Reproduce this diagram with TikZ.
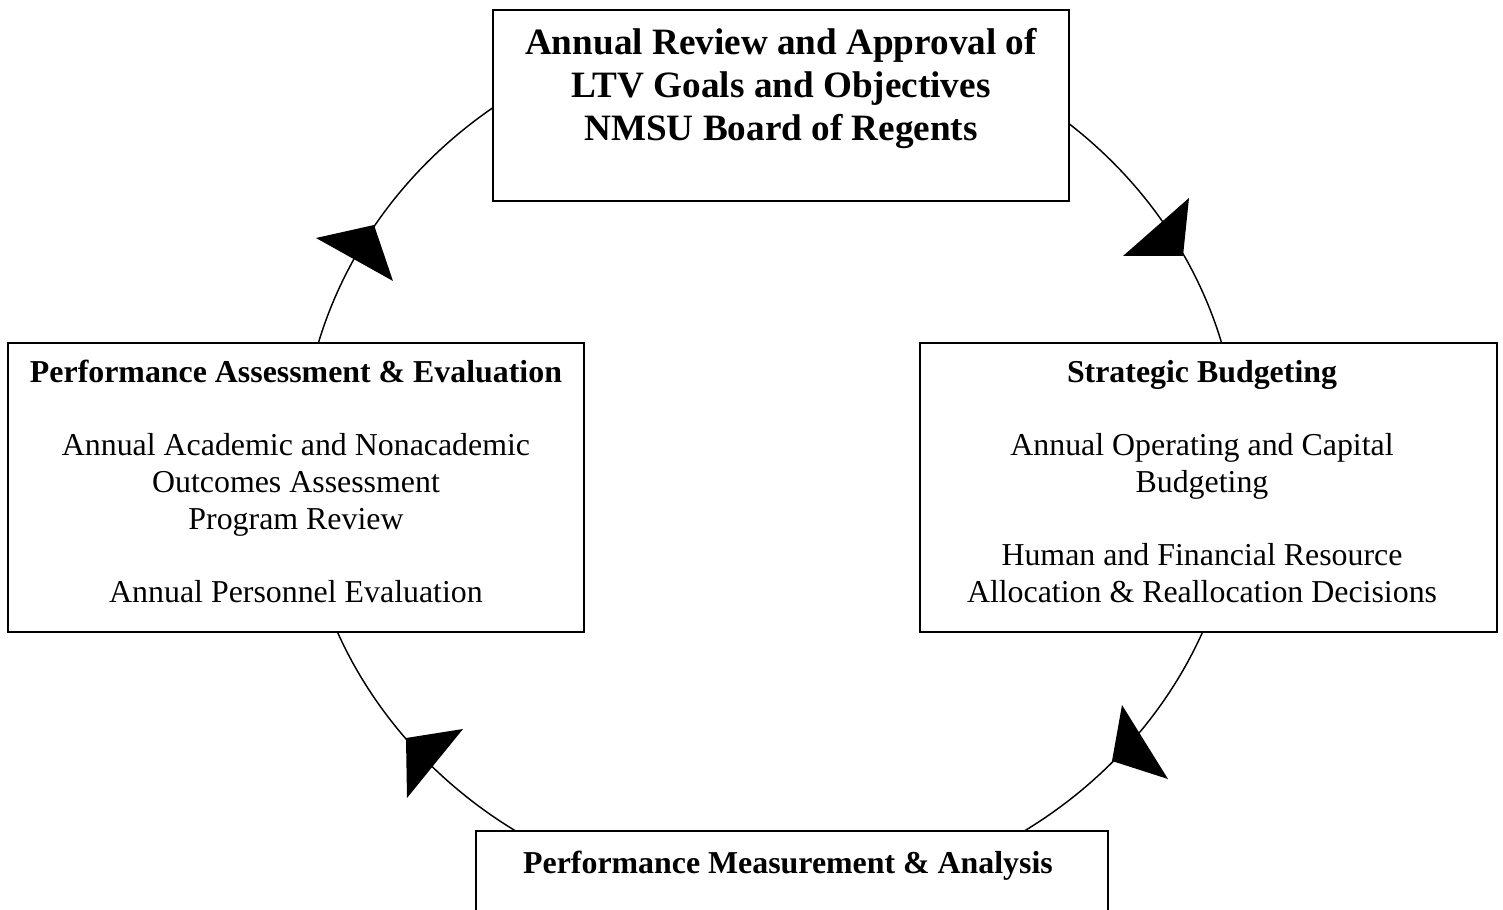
\documentclass[tikz,border=0pt]{standalone}
\usepackage{fontspec}
\setmainfont{Liberation Serif}
\begin{document}
\begin{tikzpicture}[x=0.3765pt,y=-0.3765pt,
  box/.style={draw=black,line width=0.6pt,fill=white,rectangle,inner sep=0pt,outer sep=0pt},
  big/.style={anchor=base,inner sep=0pt,font=\fontsize{14}{16.1}\selectfont\bfseries},
  head/.style={anchor=base,inner sep=0pt,font=\fontsize{12}{13.8}\selectfont\bfseries},
  body/.style={anchor=base,inner sep=0pt,font=\fontsize{12}{13.8}\selectfont},
  cycle/.style={draw=black,line width=0.55pt},
  tip/.style={fill=black}]
\useasboundingbox (0,0) rectangle (1503,910);
\clip (0,0) rectangle (1503,910);
% cycle connector (ellipse through all four boxes)
\coordinate (c) at (770,462);
\draw[cycle] (c) ellipse [x radius=176.6pt, y radius=165.3pt];
% boxes
\node[box,minimum width=216.9pt,minimum height=71.9pt] (top) at (781,105.5) {};
\node[box,minimum width=216.9pt,minimum height=108.8pt] (left) at (296,487.5) {};
\node[box,minimum width=217.2pt,minimum height=108.8pt] (right) at (1208.5,487.5) {};
\node[box,minimum width=237.9pt,minimum height=44.8pt] (bottom) at (792,890.5) {};
% arrowheads
\fill[tip] (374,225) -- (316,238) -- (393,281) -- cycle;
\fill[tip] (1183,256) -- (1189,198) -- (1123,256) -- cycle;
\fill[tip] (1112,761) -- (1122,705) -- (1168,779) -- cycle;
\fill[tip] (406,738) -- (463,729) -- (407,798) -- cycle;
% texts
\node[big] (t1) at (781,55) {Annual Review and Approval of};
\node[big] (t2) at (781,98) {LTV Goals and Objectives};
\node[big] (t3) at (781,141) {NMSU Board of Regents};
\node[head] (l0) at (296,382) {Performance Assessment \& Evaluation};
\node[body] (l1) at (296,455) {Annual Academic and Nonacademic};
\node[body] (l2) at (296,492) {Outcomes Assessment};
\node[body] (l3) at (296,529) {Program Review};
\node[body] (l4) at (296,602) {Annual Personnel Evaluation};
\node[head] (r0) at (1202,382) {Strategic Budgeting};
\node[body] (r1) at (1202,455) {Annual Operating and Capital};
\node[body] (r2) at (1202,492) {Budgeting};
\node[body] (r3) at (1202,565) {Human and Financial Resource};
\node[body] (r4) at (1202,602) {Allocation \& Reallocation Decisions};
\node[head] (b0) at (788,873) {Performance Measurement \& Analysis};
\end{tikzpicture}
\end{document}
